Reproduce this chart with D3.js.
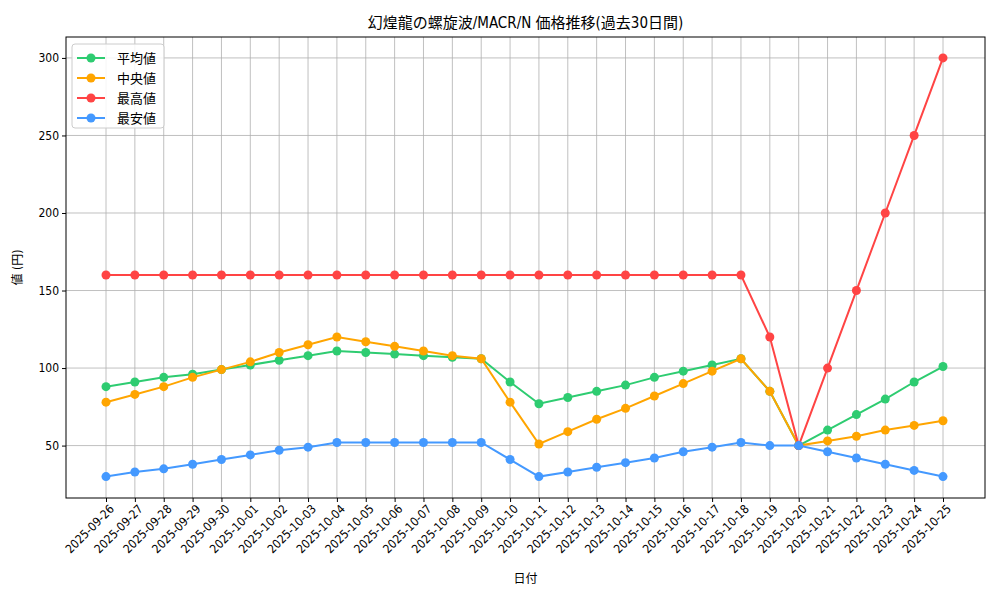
<!DOCTYPE html>
<html><head><meta charset="utf-8">
<script src="https://cdn.jsdelivr.net/npm/d3@7"></script>
<style>body{margin:0;background:#fff}text{font-family:"DejaVu Sans Condensed","Noto Sans CJK JP",sans-serif;font-stretch:condensed}</style>
</head><body><svg id="c" width="1000" height="600"></svg>
<script>
const dates=["2025-09-26","2025-09-27","2025-09-28","2025-09-29","2025-09-30","2025-10-01","2025-10-02","2025-10-03","2025-10-04","2025-10-05","2025-10-06","2025-10-07","2025-10-08","2025-10-09","2025-10-10","2025-10-11","2025-10-12","2025-10-13","2025-10-14","2025-10-15","2025-10-16","2025-10-17","2025-10-18","2025-10-19","2025-10-20","2025-10-21","2025-10-22","2025-10-23","2025-10-24","2025-10-25"];
const avgVals=[88,91,94,96,99,102,105,108,111,110,109,108,107,106,91,77,81,85,89,94,98,102,106,85,50,60,70,80,91,101];
const medVals=[78,83,88,94,99,104,110,115,120,117,114,111,108,106,78,51,59,67,74,82,90,98,106,85,50,53,56,60,63,66];
const maxVals=[160,160,160,160,160,160,160,160,160,160,160,160,160,160,160,160,160,160,160,160,160,160,160,120,50,100,150,200,250,300];
const minVals=[30,33,35,38,41,44,47,49,52,52,52,52,52,52,41,30,33,36,39,42,46,49,52,50,50,46,42,38,34,30];
const yTicks=[50,100,150,200,250,300];
const series=[["平均値",avgVals,"#2ecc71"],["中央値",medVals,"#ffa500"],["最高値",maxVals,"#ff4444"],["最安値",minVals,"#4499ff"]];
const svg=d3.select("#c");
const L=66,R=985,T=37,B=498;
const x=d3.scalePoint().domain(dates).range([106,943]);
const y=d3.scaleLinear().domain([16.2,313.5]).range([B,T]);
const g=svg.append("g");
g.selectAll(".vg").data(dates).join("line").attr("x1",d=>x(d)).attr("x2",d=>x(d)).attr("y1",T).attr("y2",B).attr("stroke","#b0b0b0").attr("stroke-width",0.8);
g.selectAll(".hg").data(yTicks).join("line").attr("x1",L).attr("x2",R).attr("y1",d=>y(d)).attr("y2",d=>y(d)).attr("stroke","#b0b0b0").attr("stroke-width",0.8);
const xa=svg.append("g").attr("transform",`translate(0,${B})`).call(d3.axisBottom(x).tickSizeOuter(0).tickSize(4));
xa.select(".domain").remove();
xa.selectAll("text").attr("transform","rotate(-45)").attr("text-anchor","end").attr("dx","-0.2em").attr("dy","0.6em").style("font-size","12px").attr("fill","#000");
const ya=svg.append("g").attr("transform",`translate(${L},0)`).call(d3.axisLeft(y).tickValues(yTicks).tickSizeOuter(0).tickSize(4));
ya.select(".domain").remove();
ya.selectAll("text").style("font-size","12px").attr("fill","#000");
const line=d3.line().x((d,i)=>x(dates[i])).y(d=>y(d));
series.forEach(([n,v,c])=>{
 svg.append("path").attr("d",line(v)).attr("fill","none").attr("stroke",c).attr("stroke-width",2);
 svg.selectAll(null).data(v).join("circle").attr("cx",(d,i)=>x(dates[i])).attr("cy",d=>y(d)).attr("r",4.5).attr("fill",c);
});
svg.append("rect").attr("x",L).attr("y",T).attr("width",R-L).attr("height",B-T).attr("fill","none").attr("stroke","#000");
svg.append("text").attr("x",(L+R)/2).attr("y",28).attr("text-anchor","middle").style("font-size","15px").text("幻煌龍の螺旋波/MACR/N 価格推移(過去30日間)");
svg.append("text").attr("x",(L+R)/2).attr("y",583).attr("text-anchor","middle").style("font-size","12px").text("日付");
svg.append("text").attr("transform",`translate(22,${(T+B)/2}) rotate(-90)`).attr("text-anchor","middle").style("font-size","12px").text("値 (円)");
const lg=svg.append("g").attr("transform","translate(72,44)");
lg.append("rect").attr("width",92).attr("height",84).attr("rx",3).attr("fill","#fff").attr("fill-opacity",0.85).attr("stroke","#ccc");
series.forEach(([n,v,c],i)=>{
 const yy=14+i*20;
 lg.append("line").attr("x1",5).attr("x2",33).attr("y1",yy).attr("y2",yy).attr("stroke",c).attr("stroke-width",2);
 lg.append("circle").attr("cx",19).attr("cy",yy).attr("r",4.5).attr("fill",c);
 lg.append("text").attr("x",45).attr("y",yy+4.5).style("font-size","13px").text(n);
});
</script></body></html>
